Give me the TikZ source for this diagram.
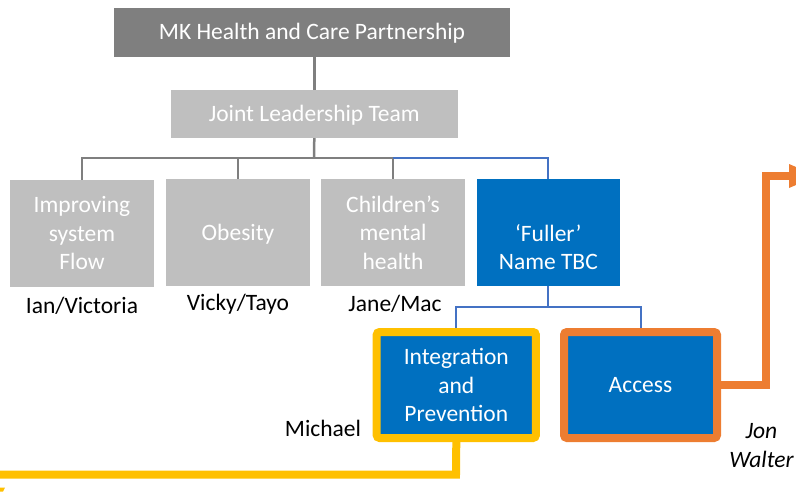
\documentclass[tikz,border=0pt]{standalone}
\usepackage{fontspec}
\setmainfont{Carlito}
\definecolor{mkgrey}{HTML}{7F7F7F}
\definecolor{lightgrey}{HTML}{BFBFBF}
\definecolor{fullblue}{HTML}{0070C0}
\definecolor{linkblue}{HTML}{4472C4}
\definecolor{ipyellow}{HTML}{FFC000}
\definecolor{accorange}{HTML}{ED7D31}
\begin{document}
\begin{tikzpicture}[x=1pt,y=-1pt,
  every node/.style={font=\fontsize{23.5}{28.5}\selectfont},
  orgbox/.style={inner sep=0pt, align=center, text=white},
  oneline/.style={text height=15.2pt, text depth=0pt},
  greybox/.style={orgbox, fill=lightgrey, minimum width=144pt, minimum height=107pt},
  tealbox/.style={orgbox, fill=fullblue, rounded corners=3pt, line width=8pt, minimum height=106pt},
  person/.style={anchor=base, text=black},
  gline/.style={draw=mkgrey, line width=2.5pt},
  bline/.style={draw=linkblue, line width=2pt},
  fatline/.style={line width=8pt, line join=miter}]
\useasboundingbox (0,0) rectangle (796,495);
\clip (0,0) rectangle (796,495);

% boxes
\node[orgbox, oneline, fill=mkgrey, minimum width=396pt, minimum height=48.7pt] (mk) at (312,32.3) {MK Health and Care Partnership};
\node[orgbox, oneline, fill=lightgrey, minimum width=286.7pt, minimum height=48pt] (jlt) at (314.3,114) {Joint Leadership Team};
\node[greybox, minimum height=106.7pt] (imp) at (82,233.3) {Improving\\system\\Flow};
\node[greybox, oneline] (obe) at (238,232.5) {Obesity};
\node[greybox] (chm) at (393,232.5) {Children’s\\mental\\health};
\node[orgbox, fill=fullblue, minimum width=143.3pt, minimum height=106.7pt] (ful) at (548.3,232.3) {};
\node[orgbox] (fultext) at (548.3,247) {‘Fuller’\\Name TBC};
\node[tealbox, draw=ipyellow, minimum width=159.3pt] (int) at (456.3,385) {Integration\\and\\Prevention};
\node[tealbox, oneline, draw=accorange, minimum width=153pt] (acc) at (640.5,385) {Access};

% names
\node[person] (n1) at (82,313) {Ian/Victoria};
\node[person] (n2) at (238,310) {Vicky/Tayo};
\node[person] (n3) at (395,311.5) {Jane/Mac};
\node[person] (n4) at (323,436) {Michael};
\node[person, font=\fontsize{23.5}{28.5}\selectfont\itshape] (n5) at (761.5,438) {Jon};
\node[person, font=\fontsize{23.5}{28.5}\selectfont\itshape] (n6) at (761.5,467) {Walter};

% tree connectors
\coordinate (bus) at (314,158);
\coordinate (bus2) at (548,307);
\draw[gline] (jlt.north) -- (jlt.north |- mk.south);
\draw[gline] (jlt.south) -- (bus);
\draw[gline] (imp.north) -- (imp.north |- bus) -- (chm.north |- bus) -- (chm.north);
\draw[gline] (obe.north) -- (obe.north |- bus);
\draw[bline] (chm.north |- bus) -- (ful.north |- bus) -- (ful.north);
\draw[bline] (ful.south) -- (ful.south |- bus2);
\draw[bline] (int.north) -- (int.north |- bus2) -- (acc.north |- bus2) -- (acc.north);

% outgoing links
\coordinate (yturn) at (456,474.5);
\coordinate (yend) at (-6,474.5);
\draw[fatline, draw=ipyellow] (int.south) -- (yturn) -- (yend);
\fill[ipyellow] (-2,487.7) -- (5,487.7) -- (3,491.7) -- (-2,491.7) -- cycle;

\coordinate (obend) at (765.5,385);
\coordinate (oturn) at (765.5,176);
\coordinate (otip) at (789,176);
\draw[fatline, draw=accorange] (acc.east) -- (obend) -- (oturn) -- (otip);
\fill[accorange] (789,164) -- (817,176) -- (789,188) -- cycle;
\end{tikzpicture}
\end{document}
